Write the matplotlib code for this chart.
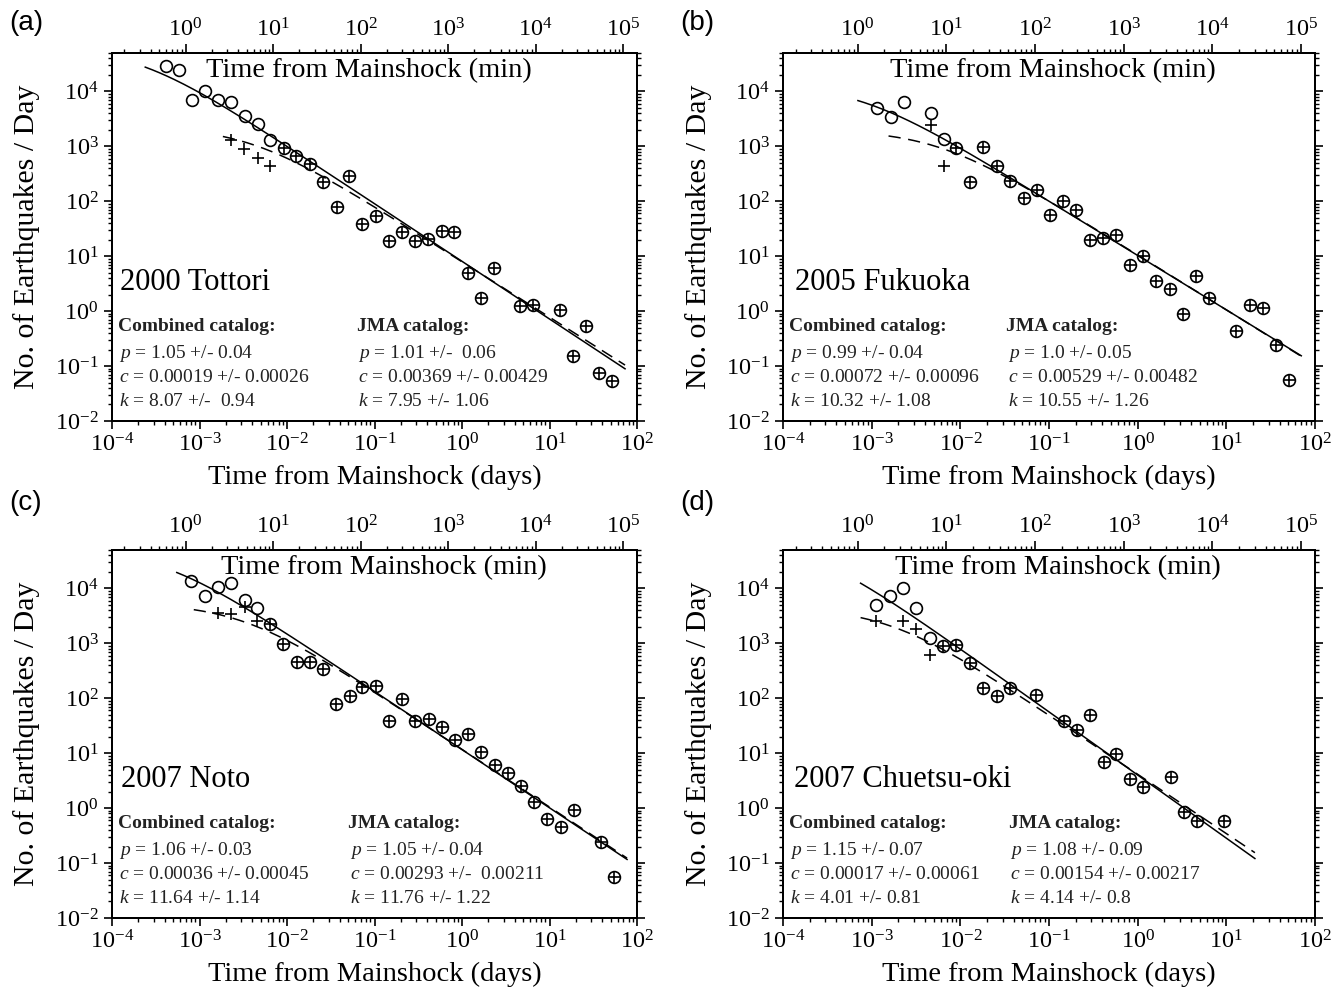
import numpy as np
import matplotlib
matplotlib.use("Agg")
import matplotlib.pyplot as plt
from matplotlib.ticker import LogLocator, NullFormatter, LogFormatterSciNotation, FixedLocator

plt.rcParams.update({
    "font.family": "serif",
    "font.serif": ["Liberation Serif", "DejaVu Serif"],
    "mathtext.fontset": "custom",
    "mathtext.rm": "Liberation Serif",
    "mathtext.it": "Liberation Serif:italic",
    "mathtext.bf": "Liberation Serif:bold",
    "axes.unicode_minus": False,
    "axes.linewidth": 1.4,
})

# ---------------- data (days, events/day) ----------------
# (a) 2000 Tottori
a_comb_t = [4.11e-4, 5.81e-4, 8.14e-4, 1.16e-3, 1.64e-3, 2.28e-3, 3.29e-3, 4.61e-3, 6.46e-3,
            9.29e-3, 1.28e-2, 1.81e-2, 2.61e-2, 3.68e-2, 5.16e-2, 7.29e-2, 0.104, 0.147, 0.206,
            0.289, 0.413, 0.584, 0.811, 1.17, 1.65, 2.31, 4.62, 6.48, 13.1, 18.5, 26.2, 36.6, 51.9]
a_comb_n = [2.86e4, 2.5e4, 7.1e3, 1.0e4, 7.05e3, 6.3e3, 3.5e3, 2.57e3, 1.31e3,
            927, 653, 473, 222, 77.6, 283, 38.6, 54.8, 19.2, 27.6,
            19.2, 20.3, 29.2, 27.6, 4.87, 1.75, 6.0, 1.23, 1.29, 1.07, 0.153, 0.53, 0.075, 0.053]
a_jma_t = [2.28e-3, 3.23e-3, 4.61e-3, 6.46e-3,
           9.29e-3, 1.28e-2, 1.81e-2, 2.61e-2, 3.68e-2, 5.16e-2, 7.29e-2, 0.104, 0.147, 0.206,
           0.289, 0.413, 0.584, 0.811, 1.17, 1.65, 2.31, 4.62, 6.48, 13.1, 18.5, 26.2, 36.6, 51.9]
a_jma_n = [1310, 887, 608, 441,
           927, 653, 473, 222, 77.6, 283, 38.6, 54.8, 19.2, 27.6,
           19.2, 20.3, 29.2, 27.6, 4.87, 1.75, 6.0, 1.23, 1.29, 1.07, 0.153, 0.53, 0.075, 0.053]

# (b) 2005 Fukuoka
b_comb_t = [1.15e-3, 1.64e-3, 2.31e-3, 4.69e-3, 6.5e-3, 8.95e-3, 1.29e-2, 1.81e-2, 2.56e-2,
            3.67e-2, 5.16e-2, 7.34e-2, 0.103, 0.144, 0.203, 0.288, 0.405, 0.57, 0.81, 1.14,
            1.61, 2.29, 3.23, 4.58, 6.45, 12.9, 18.3, 25.8, 36.2, 51.4]
b_comb_n = [4970, 3460, 6300, 3980, 1360, 933, 228, 959, 445,
            231, 113, 161, 57.3, 100, 70.5, 20.1, 21.2, 24.8, 6.95, 10,
            3.51, 2.55, 0.87, 4.33, 1.75, 0.433, 1.27, 1.13, 0.238, 0.055]
b_jma_t = [4.69e-3, 6.5e-3, 8.95e-3, 1.29e-2, 1.81e-2, 2.56e-2,
           3.67e-2, 5.16e-2, 7.34e-2, 0.103, 0.144, 0.203, 0.288, 0.405, 0.57, 0.81, 1.14,
           1.61, 2.29, 3.23, 4.58, 6.45, 12.9, 18.3, 25.8, 36.2, 51.4]
b_jma_n = [2440, 445, 933, 228, 959, 445,
           231, 113, 161, 57.3, 100, 70.5, 20.1, 21.2, 24.8, 6.95, 10,
           3.51, 2.55, 0.87, 4.33, 1.75, 0.433, 1.27, 1.13, 0.238, 0.055]

# (c) 2007 Noto
c_comb_t = [8.1e-4, 1.15e-3, 1.62e-3, 2.31e-3, 3.27e-3, 4.57e-3, 6.46e-3, 9.12e-3, 1.29e-2,
            1.82e-2, 2.58e-2, 3.64e-2, 5.24e-2, 7.28e-2, 0.103, 0.148, 0.205, 0.29, 0.418,
            0.59, 0.841, 1.18, 1.66, 2.39, 3.39, 4.74, 6.7, 9.38, 13.5, 19.1, 38.5, 54.3]
c_comb_n = [1.38e4, 7.36e3, 1.04e4, 1.27e4, 6.13e3, 4.33e3, 2.21e3, 960, 452,
            464, 337, 78.9, 112, 158, 168, 39.3, 95.9, 39.3, 42.1,
            29.7, 17.5, 22.5, 10.4, 6.13, 4.33, 2.48, 1.32, 0.63, 0.452, 0.933, 0.238, 0.0556]
c_jma_t = [1.62e-3, 2.27e-3, 3.27e-3, 4.57e-3, 6.46e-3, 9.12e-3, 1.29e-2,
           1.82e-2, 2.58e-2, 3.64e-2, 5.24e-2, 7.28e-2, 0.103, 0.148, 0.205, 0.29, 0.418,
           0.59, 0.841, 1.18, 1.66, 2.39, 3.39, 4.74, 6.7, 9.38, 13.5, 19.1, 38.5, 54.3]
c_jma_n = [3500, 3400, 4600, 2550, 2210, 960, 452,
           464, 337, 78.9, 112, 158, 168, 39.3, 95.9, 39.3, 42.1,
           29.7, 17.5, 22.5, 10.4, 6.13, 4.33, 2.48, 1.32, 0.63, 0.452, 0.933, 0.238, 0.0556]

# (d) 2007 Chuetsu-oki
d_comb_t = [1.13e-3, 1.61e-3, 2.28e-3, 3.18e-3, 4.5e-3, 6.41e-3, 8.97e-3, 1.28e-2, 1.82e-2,
            2.58e-2, 3.6e-2, 7.2e-2, 0.146, 0.207, 0.292, 0.416, 0.577, 0.824, 1.16, 2.35,
            3.31, 4.64, 9.52]
d_comb_n = [5030, 7140, 10100, 4370, 1270, 894, 933, 431, 155,
            109, 155, 117, 39, 26.7, 48.9, 6.84, 9.72, 3.39, 2.45, 3.64,
            0.834, 0.586, 0.586]
d_jma_t = [1.13e-3, 2.28e-3, 3.18e-3, 4.5e-3, 6.41e-3, 8.97e-3, 1.28e-2, 1.82e-2,
           2.58e-2, 3.6e-2, 7.2e-2, 0.146, 0.207, 0.292, 0.416, 0.577, 0.824, 1.16, 2.35,
           3.31, 4.64, 9.52]
d_jma_n = [2560, 2560, 1800, 612, 894, 933, 431, 155,
           109, 155, 117, 39, 26.7, 48.9, 6.84, 9.72, 3.39, 2.45, 3.64,
           0.834, 0.586, 0.586]

# Omori-Utsu fit parameters (p, c, k) as printed in each panel
a_fit_comb = (1.05, 0.00019, 8.07);  a_fit_jma = (1.01, 0.00369, 7.95)
b_fit_comb = (0.99, 0.00072, 10.32); b_fit_jma = (1.0, 0.00529, 10.55)
c_fit_comb = (1.06, 0.00036, 11.64); c_fit_jma = (1.05, 0.00293, 11.76)
d_fit_comb = (1.15, 0.00017, 4.01);  d_fit_jma = (1.08, 0.00154, 4.14)

# time span of the drawn fit curves (days)
a_span_comb = (2.4e-4, 73); a_span_jma = (1.85e-3, 73)
b_span_comb = (7.0e-4, 70); b_span_jma = (1.55e-3, 70)
c_span_comb = (5.5e-4, 77); c_span_jma = (8.6e-4, 77)
d_span_comb = (7.5e-4, 21); d_span_jma = (7.5e-4, 21)

# axis tick decades
x_ticks_days = [1e-4, 1e-3, 1e-2, 1e-1, 1e0, 1e1, 1e2]
x_ticks_min = [1e0, 1e1, 1e2, 1e3, 1e4, 1e5]
y_ticks = [1e-2, 1e-1, 1e0, 1e1, 1e2, 1e3, 1e4]

panel_letters = ["(a)", "(b)", "(c)", "(d)"]
event_names = ["2000 Tottori", "2005 Fukuoka", "2007 Noto", "2007 Chuetsu-oki"]

a_comb_txt = [r"$p$ = 1.05 +/- 0.04", r"$c$ = 0.00019 +/- 0.00026", r"$k$ = 8.07 +/-  0.94"]
a_jma_txt = [r"$p$ = 1.01 +/-  0.06", r"$c$ = 0.00369 +/- 0.00429", r"$k$ = 7.95 +/- 1.06"]
b_comb_txt = [r"$p$ = 0.99 +/- 0.04", r"$c$ = 0.00072 +/- 0.00096", r"$k$ = 10.32 +/- 1.08"]
b_jma_txt = [r"$p$ = 1.0 +/- 0.05", r"$c$ = 0.00529 +/- 0.00482", r"$k$ = 10.55 +/- 1.26"]
c_comb_txt = [r"$p$ = 1.06 +/- 0.03", r"$c$ = 0.00036 +/- 0.00045", r"$k$ = 11.64 +/- 1.14"]
c_jma_txt = [r"$p$ = 1.05 +/- 0.04", r"$c$ = 0.00293 +/-  0.00211", r"$k$ = 11.76 +/- 1.22"]
d_comb_txt = [r"$p$ = 1.15 +/- 0.07", r"$c$ = 0.00017 +/- 0.00061", r"$k$ = 4.01 +/- 0.81"]
d_jma_txt = [r"$p$ = 1.08 +/- 0.09", r"$c$ = 0.00154 +/- 0.00217", r"$k$ = 4.14 +/- 0.8"]

MIN_PER_DAY = 1440.0

# ---------------- figure ----------------
fig = plt.figure(figsize=(13.44, 9.9), dpi=100)

rects = [
    [112 / 1344, 1 - 421 / 990, 525 / 1344, 368 / 990],
    [783 / 1344, 1 - 421 / 990, 532 / 1344, 368 / 990],
    [112 / 1344, 1 - 918 / 990, 525 / 1344, 368 / 990],
    [783 / 1344, 1 - 918 / 990, 532 / 1344, 368 / 990],
]
letter_pos = [(0.007, 0.99), (0.506, 0.99), (0.007, 0.505), (0.506, 0.505)]
min_title_x = [0.49, 0.508, 0.517, 0.517]
name_x = [0.015, 0.022, 0.018, 0.021]
jma_x = [0.466, 0.42, 0.45, 0.424]
ylab_x = [-0.138, -0.134, -0.138, -0.134]

panels = [
    (a_comb_t, a_comb_n, a_jma_t, a_jma_n, a_fit_comb, a_fit_jma, a_span_comb, a_span_jma, a_comb_txt, a_jma_txt),
    (b_comb_t, b_comb_n, b_jma_t, b_jma_n, b_fit_comb, b_fit_jma, b_span_comb, b_span_jma, b_comb_txt, b_jma_txt),
    (c_comb_t, c_comb_n, c_jma_t, c_jma_n, c_fit_comb, c_fit_jma, c_span_comb, c_span_jma, c_comb_txt, c_jma_txt),
    (d_comb_t, d_comb_n, d_jma_t, d_jma_n, d_fit_comb, d_fit_jma, d_span_comb, d_span_jma, d_comb_txt, d_jma_txt),
]


def omori(t, fit):
    p, c, k = fit
    return k / (t + c) ** p


def style_log_axis(axis, majors):
    lo, hi = min(majors), max(majors)
    axis.set_major_locator(FixedLocator(majors))
    minors = [m * d for d in majors[:-1] for m in range(2, 10)]
    # add minor ticks inside the partial decades at the ends of the axis
    minors += [m * lo / 10 for m in range(2, 10)] + [m * hi for m in range(2, 10)]
    axis.set_minor_locator(FixedLocator(minors))
    axis.set_minor_formatter(NullFormatter())
    axis.set_major_formatter(LogFormatterSciNotation())


for i, (ct, cn, jt, jn, fc, fj, sc, sj, ctxt, jtxt) in enumerate(panels):
    ax = fig.add_axes(rects[i])
    ax.set_xscale("log")
    ax.set_yscale("log")
    ax.set_xlim(1e-4, 1e2)
    ax.set_ylim(1e-2, 5e4)
    style_log_axis(ax.xaxis, x_ticks_days)
    style_log_axis(ax.yaxis, y_ticks)
    ax.tick_params(which="both", direction="out", top=False, right=True, labelright=False)
    ax.tick_params(which="major", length=5.5, width=1.2, labelsize=17.5, pad=3)
    ax.tick_params(which="minor", length=2.8, width=1.0)
    ax.tick_params(axis="y", which="major", pad=4)

    # fitted Omori-Utsu curves
    ts = np.logspace(np.log10(sc[0]), np.log10(sc[1]), 200)
    ax.plot(ts, omori(ts, fc), color="black", lw=1.1, zorder=2)
    tj = np.logspace(np.log10(sj[0]), np.log10(sj[1]), 200)
    ax.plot(tj, omori(tj, fj), color="black", lw=1.1, dashes=(8, 5), zorder=2)

    # data
    ax.plot(ct, cn, linestyle="none", marker="o", ms=8.5, mfc="none", mec="black", mew=1.2, zorder=3)
    ax.plot(jt, jn, linestyle="none", marker="+", ms=8.5, mec="black", mew=1.2, zorder=3)

    ax.set_xlabel("Time from Mainshock (days)", fontsize=20.5)
    ax.xaxis.set_label_coords(0.5, -0.12)
    ax.set_ylabel("No. of Earthquakes / Day", fontsize=21.5)
    ax.yaxis.set_label_coords(ylab_x[i], 0.5)

    # top axis in minutes
    ax2 = ax.twiny()
    ax2.set_xscale("log")
    ax2.set_xlim(1e-4 * MIN_PER_DAY, 1e2 * MIN_PER_DAY)
    style_log_axis(ax2.xaxis, x_ticks_min)
    ax2.tick_params(which="both", direction="out")
    ax2.tick_params(which="major", length=6.5, width=1.2, labelsize=17.5, pad=2)
    ax2.tick_params(which="minor", length=3.0, width=1.0)
    ax.text(min_title_x[i], 0.987, "Time from Mainshock (min)", transform=ax.transAxes,
            ha="center", va="top", fontsize=20.5)

    # annotations
    ax.text(name_x[i], 0.357, event_names[i], transform=ax.transAxes, ha="left",
            va="baseline", fontsize=22)
    ax.text(0.012, 0.245, "Combined catalog:", transform=ax.transAxes, ha="left",
            va="baseline", fontsize=14, fontweight="bold", color="#222222")
    ax.text(jma_x[i], 0.245, "JMA catalog:", transform=ax.transAxes, ha="left",
            va="baseline", fontsize=14, fontweight="bold", color="#222222")
    for s, yy in zip(ctxt, [0.17, 0.105, 0.04]):
        ax.text(0.014, yy, s, transform=ax.transAxes, ha="left", va="baseline",
                fontsize=14, color="#222222")
    for s, yy in zip(jtxt, [0.17, 0.105, 0.04]):
        ax.text(jma_x[i] + 0.003, yy, s, transform=ax.transAxes, ha="left", va="baseline",
                fontsize=14, color="#222222")

    fig.text(letter_pos[i][0], letter_pos[i][1], panel_letters[i], ha="left", va="top",
             fontsize=20, family=["Liberation Sans", "DejaVu Sans"])

fig.savefig("out.png", dpi=100)
